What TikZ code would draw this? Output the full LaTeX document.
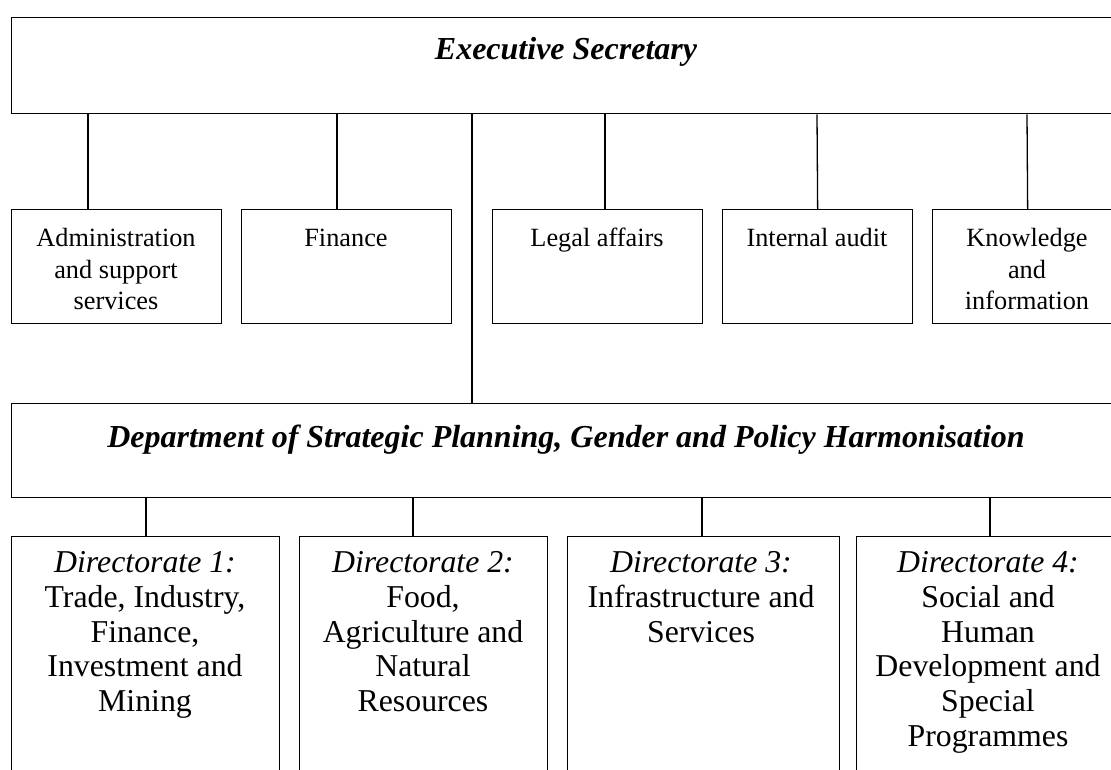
\documentclass[tikz,border=0pt]{standalone}
\usepackage{fontspec}
\setmainfont{Liberation Serif}
\begin{document}
\begin{tikzpicture}[x=1pt,y=-1pt,
  box/.style={draw=black, line width=1.3pt, inner sep=0pt, anchor=north west},
  conn/.style={draw=black, line width=1.3pt},
  title/.style={font=\fontsize{32}{36}\selectfont\bfseries\itshape, anchor=base, inner sep=0pt},
  small/.style={font=\fontsize{26.3}{31.5}\selectfont, align=center, anchor=north, inner sep=0pt},
  dir/.style={font=\fontsize{31.8}{34.8}\selectfont, align=center, anchor=north, inner sep=0pt}]
\useasboundingbox (0,0) rectangle (1111,769);
\clip (0,0) rectangle (1111,769);

% Executive Secretary
\node[box, minimum width=1112pt, minimum height=96pt] (es) at (11,17) {};
\node[title] (est) at (566,59) {Executive Secretary};

% second row
\node[box, minimum width=210pt, minimum height=114pt] (adm) at (11,209) {};
\node[box, minimum width=210pt, minimum height=114pt] (fin) at (241,209) {};
\node[box, minimum width=210pt, minimum height=114pt] (leg) at (492,209) {};
\node[box, minimum width=190pt, minimum height=114pt] (aud) at (722,209) {};
\node[box, minimum width=190pt, minimum height=114pt] (kno) at (932,209) {};

\node[small] (admt) at (116,224.5) {\strut Administration\\and support\\services};
\node[small] (fint) at (346,224.5) {\strut Finance};
\node[small] (legt) at (597,224.5) {\strut Legal affairs};
\node[small] (audt) at (817,224.5) {\strut Internal audit};
\node[small] (knot) at (1027,224.5) {\strut Knowledge\\and\\information};

% Department
\node[box, minimum width=1112pt, minimum height=94pt] (dep) at (11,403) {};
\node[title] (dept) at (566,447) {Department of Strategic Planning, Gender and Policy Harmonisation};

% Directorates
\node[box, minimum width=268pt, minimum height=260pt] (d1) at (11,536) {};
\node[box, minimum width=248pt, minimum height=260pt] (d2) at (299,536) {};
\node[box, minimum width=272pt, minimum height=260pt] (d3) at (567,536) {};
\node[box, minimum width=270pt, minimum height=260pt] (d4) at (856,536) {};

\node[dir] (d1t) at (145,548) {\strut\textit{Directorate 1:}\\Trade, Industry,\\Finance,\\Investment and\\Mining};
\node[dir] (d2t) at (423,548) {\strut\textit{Directorate 2:}\\Food,\\Agriculture and\\Natural\\Resources};
\node[dir] (d3t) at (701,548) {\strut\textit{Directorate 3:}\\Infrastructure and\\Services};
\node[dir] (d4t) at (988,548) {\strut\textit{Directorate 4:}\\Social and\\Human\\Development and\\Special\\Programmes};

% connectors
\draw[conn] (es.south west -| 88,0) -- (adm.north west -| 88,0);
\draw[conn] (es.south west -| 337,0) -- (fin.north west -| 337,0);
\draw[conn] (es.south west -| 605,0) -- (leg.north west -| 605,0);
\draw[conn] (es.south west -| 817,0) -- (aud.north);
\draw[conn] (es.south west -| 1027,0) -- (kno.north);
\draw[conn] (es.south west -| 472,0) -- (dep.north west -| 472,0);

\draw[conn] (dep.south west -| 146,0) -- (d1.north west -| 146,0);
\draw[conn] (dep.south west -| 413,0) -- (d2.north west -| 413,0);
\draw[conn] (dep.south west -| 702,0) -- (d3.north west -| 702,0);
\draw[conn] (dep.south west -| 990,0) -- (d4.north west -| 990,0);
\end{tikzpicture}
\end{document}
